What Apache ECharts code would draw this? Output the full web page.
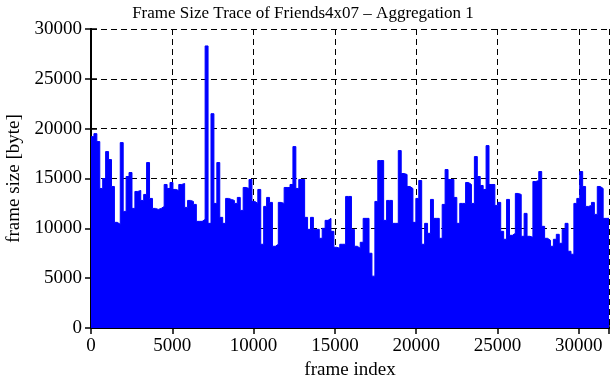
<!DOCTYPE html>
<html><head><meta charset="utf-8">
<script src="https://cdn.jsdelivr.net/npm/echarts@6/dist/echarts.min.js"></script>
<style>html,body{margin:0;padding:0;background:#fff}#c{width:611px;height:380px}</style>
</head><body><div id="c"></div>
<script>
// Frame-size trace: peak frame size (bytes) in consecutive buckets of 180 frames
const bucketFrames = 180;
const totalFrames = 31860;
const peakSizes = [
  19200,19500,18700,14000,15000,17700,16900,14200,10600,10400,18600,11700,15200,15600,12000,13700,13800,12800,13400,16600,13000,12000,11900,12000,12200,14400,14000,14600,13900,
  13800,14400,14500,12100,12800,12700,12400,10700,10700,10900,28300,10500,21500,12500,16600,11100,10500,13000,12900,12800,12500,13100,11800,14100,14000,14900,12700,12500,13900,8400,
  12200,13100,12600,8200,8400,12600,12500,14100,14100,14400,18200,14000,14900,14900,11100,9900,11100,9900,9900,9000,10000,10800,11000,9700,8100,8000,8400,8400,13200,
  13200,9900,8200,8000,8600,11000,11000,7500,5200,12700,16800,16800,10800,12800,12800,10500,10500,17800,15500,15400,14200,14000,10600,13000,14800,8400,10500,9500,12900,11000,
  11000,9000,12400,15900,14900,14900,13100,10500,12500,12500,14600,14400,12500,17200,15200,14300,13900,18300,14400,14400,12300,12600,9700,8900,12900,9300,9500,13500,13400,9200,
  11500,9200,9100,14700,14800,15700,10200,9000,8800,8200,8900,9400,8500,9900,10500,7700,7400,12500,13000,15700,14200,12200,12300,12600,11400,14200,14000,11000,11000
];
const xTickStep = 5000;
const yMax = 30000, yTickStep = 5000;

const traceData = peakSizes.map((v, i) => [i * bucketFrames, v]);
traceData.push([totalFrames, peakSizes[peakSizes.length - 1]]);

const FONT = 'Liberation Serif';
const chart = echarts.init(document.getElementById('c'), null, {renderer: 'canvas'});
const axisCommon = {
  axisLine: {show: true, lineStyle: {color: '#000', width: 2}},
  axisTick: {show: true, inside: true, length: 6, lineStyle: {color: '#000', width: 1.5}},
};
chart.setOption({
  animation: false,
  backgroundColor: '#fff',
  title: {
    text: 'Frame Size Trace of Friends4x07 \u2013 Aggregation 1',
    left: 298, top: 0, textAlign: 'center',
    textStyle: {fontFamily: FONT, fontSize: 17, fontWeight: 'normal', color: '#000'}
  },
  grid: {left: 91, right: 2, top: 29, bottom: 52, containLabel: false, outerBoundsMode: 'none'},
  xAxis: [{
    type: 'value', min: 0, max: totalFrames, interval: xTickStep,
    name: 'frame index', nameLocation: 'middle', nameGap: 33,
    nameTextStyle: {fontFamily: FONT, fontSize: 19, color: '#000'},
    ...axisCommon,
    axisLabel: {fontFamily: FONT, fontSize: 19, color: '#000', margin: 9,
      formatter: v => (v % xTickStep === 0 ? String(v) : '')},
    splitLine: {show: true, lineStyle: {color: '#000', width: 1, type: [6, 4]}}
  }, {
    type: 'value', position: 'top', min: 0, max: totalFrames, interval: xTickStep,
    ...axisCommon, axisLabel: {show: false}, splitLine: {show: false}
  }],
  yAxis: [{
    type: 'value', min: 0, max: yMax, interval: yTickStep,
    name: 'frame size [byte]', nameLocation: 'middle', nameGap: 64,
    nameTextStyle: {fontFamily: FONT, fontSize: 19, color: '#000'},
    ...axisCommon,
    axisLabel: {fontFamily: FONT, fontSize: 19, color: '#000', margin: 9,
      formatter: v => String(v)},
    splitLine: {show: true, lineStyle: {color: '#000', width: 1, type: [6, 4]}}
  }, {
    type: 'value', position: 'right', min: 0, max: yMax, interval: yTickStep,
    ...axisCommon, axisLabel: {show: false}, splitLine: {show: false}
  }],
  series: [{
    type: 'line', xAxisIndex: 0, yAxisIndex: 0,
    data: traceData, step: 'end', showSymbol: false, symbol: 'none',
    lineStyle: {color: '#0000ff', width: 1},
    areaStyle: {color: '#0000ff', opacity: 1},
    z: 1
  }]
});
</script></body></html>
